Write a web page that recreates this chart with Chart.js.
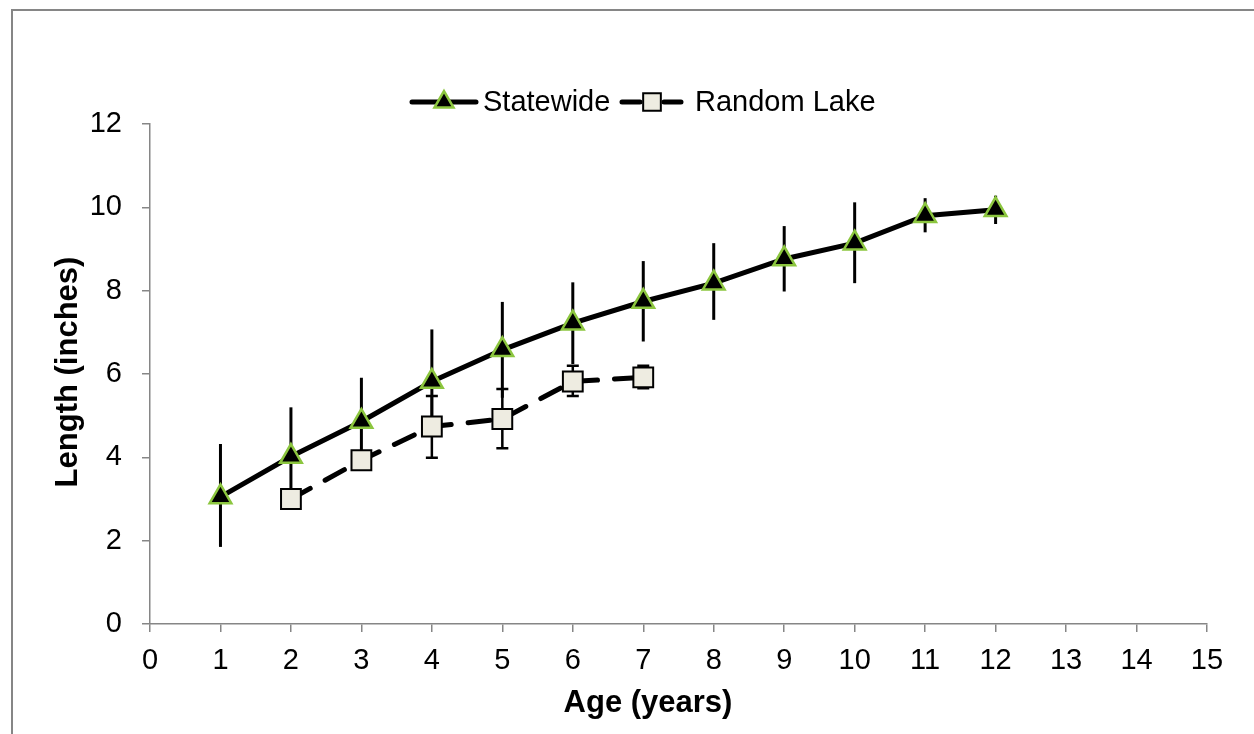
<!DOCTYPE html>
<html>
<head>
<meta charset="utf-8">
<script src="https://cdn.jsdelivr.net/npm/chart.js@4.4.1/dist/chart.umd.min.js"></script>
<style>
  body { margin: 0; background: #fff; }
  canvas { display: block; }
</style>
</head>
<body>
<canvas id="grafico" width="1254" height="734"></canvas>
<script>
// Statewide
const edadesEstado = [1, 2, 3, 4, 5, 6, 7, 8, 9, 10, 11, 12];
const mediaEstado = [3.05, 4.02, 4.86, 5.82, 6.58, 7.22, 7.74, 8.18, 8.76, 9.14, 9.80, 9.94];
const altoEstado = [4.32, 5.20, 5.91, 7.07, 7.73, 8.20, 8.71, 9.14, 9.55, 10.12, 10.22, 10.28];
const bajoEstado = [1.85, 2.84, 3.81, 4.57, 5.43, 6.24, 6.78, 7.30, 7.98, 8.18, 9.40, 9.60];

// Random Lake
const edadesLago = [2, 3, 4, 5, 6, 7];
const mediaLago = [3.00, 3.93, 4.74, 4.92, 5.82, 5.92];
const altoLago = [3.00, 3.93, 5.47, 5.64, 6.20, 6.20];
const bajoLago = [3.00, 3.93, 3.99, 4.22, 5.47, 5.66];

const nombres = ['Statewide', 'Random Lake'];
const tituloX = 'Age (years)';
const tituloY = 'Length (inches)';

const fuente = '"Liberation Sans", Arial, sans-serif';
const verde = '#8cc63f';
const gris = '#868686';

const puntos = (xs, ys) => xs.map((x, i) => ({ x: x, y: ys[i] }));

// Barras de error
const barrasError = {
  id: 'barrasError',
  beforeDatasetsDraw(chart) {
    const { ctx, scales: { x, y } } = chart;
    const series = [
      { xs: edadesEstado, alto: altoEstado, bajo: bajoEstado, ancho: 3, tapa: 0 },
      { xs: edadesLago, alto: altoLago, bajo: bajoLago, ancho: 2.5, tapa: 6 }
    ];
    ctx.save();
    ctx.strokeStyle = '#000';
    series.forEach(s => {
      ctx.lineWidth = s.ancho;
      s.xs.forEach((e, i) => {
        if (s.alto[i] === s.bajo[i]) return;
        const px = x.getPixelForValue(e);
        const y1 = y.getPixelForValue(s.alto[i]);
        const y2 = y.getPixelForValue(s.bajo[i]);
        ctx.beginPath();
        ctx.moveTo(px, y1);
        ctx.lineTo(px, y2);
        if (s.tapa) {
          ctx.moveTo(px - s.tapa, y1);
          ctx.lineTo(px + s.tapa, y1);
          ctx.moveTo(px - s.tapa, y2);
          ctx.lineTo(px + s.tapa, y2);
        }
        ctx.stroke();
      });
    });
    ctx.restore();
  }
};

// Marco, titulos de ejes y leyenda
const extras = {
  id: 'extras',
  beforeDraw(chart) {
    const ctx = chart.ctx;
    ctx.save();
    ctx.fillStyle = '#fff';
    ctx.fillRect(0, 0, chart.width, chart.height);
    ctx.strokeStyle = gris;
    ctx.lineWidth = 2;
    ctx.strokeRect(12, 10, chart.width + 20, chart.height + 20);
    ctx.restore();
  },
  afterDraw(chart) {
    const ctx = chart.ctx;
    ctx.save();
    ctx.fillStyle = '#000';
    ctx.font = 'bold 31px ' + fuente;
    ctx.textAlign = 'center';
    ctx.textBaseline = 'alphabetic';
    ctx.fillText(tituloX, 648, 712);
    ctx.translate(77, 372);
    ctx.rotate(-Math.PI / 2);
    ctx.fillText(tituloY, 0, 0);
    ctx.restore();

    // leyenda
    const ds = chart.data.datasets;
    const yl = 102;
    ctx.save();
    ctx.strokeStyle = '#000';
    ctx.lineWidth = 5;
    ctx.lineCap = 'round';
    ctx.beginPath();
    ctx.moveTo(412, yl);
    ctx.lineTo(476, yl);
    ctx.moveTo(622, yl);
    ctx.lineTo(640, yl);
    ctx.moveTo(664, yl);
    ctx.lineTo(681, yl);
    ctx.stroke();

    ctx.fillStyle = ds[0].pointBackgroundColor;
    ctx.strokeStyle = ds[0].pointBorderColor;
    ctx.lineWidth = 2.5;
    Chart.helpers.drawPoint(ctx, { pointStyle: 'triangle', radius: 11, borderWidth: 2.5, rotation: 0 }, 444, yl);
    ctx.fillStyle = ds[1].pointBackgroundColor;
    ctx.strokeStyle = ds[1].pointBorderColor;
    ctx.lineWidth = 2;
    Chart.helpers.drawPoint(ctx, { pointStyle: 'rect', radius: 12.5, borderWidth: 2, rotation: 0 }, 652, yl);

    ctx.fillStyle = '#000';
    ctx.font = '29px ' + fuente;
    ctx.textAlign = 'left';
    ctx.textBaseline = 'alphabetic';
    ctx.fillText(nombres[0], 483, 111);
    ctx.fillText(nombres[1], 695, 111);
    ctx.restore();
  }
};

new Chart(document.getElementById('grafico'), {
  type: 'line',
  data: {
    datasets: [
      {
        label: nombres[0],
        data: puntos(edadesEstado, mediaEstado),
        borderColor: '#000',
        borderWidth: 5,
        pointStyle: 'triangle',
        pointRadius: 12.5,
        pointBackgroundColor: '#000',
        pointBorderColor: verde,
        pointBorderWidth: 2.5,
        tension: 0,
        order: 2
      },
      {
        label: nombres[1],
        data: puntos(edadesLago, mediaLago),
        borderColor: '#000',
        borderWidth: 5,
        borderDash: [22, 17],
        borderCapStyle: 'round',
        pointStyle: 'rect',
        pointRadius: 14,
        pointBackgroundColor: '#eeece1',
        pointBorderColor: '#000',
        pointBorderWidth: 2,
        tension: 0,
        order: 1
      }
    ]
  },
  options: {
    responsive: false,
    animation: false,
    devicePixelRatio: 1,
    layout: { padding: { top: 124, right: 47, left: 0, bottom: 0 } },
    plugins: {
      legend: { display: false },
      tooltip: { enabled: false }
    },
    scales: {
      x: {
        type: 'linear',
        min: 0,
        max: 15,
        afterFit: s => { s.height = 110; },
        grid: { drawOnChartArea: false, drawTicks: true, tickLength: 8, color: gris, lineWidth: 1.5 },
        border: { color: gris, width: 1.5 },
        ticks: { stepSize: 1, color: '#000', padding: 12, font: { family: fuente, size: 29 } }
      },
      y: {
        min: 0,
        max: 12,
        afterFit: s => { s.width = 150; },
        grid: { drawOnChartArea: false, drawTicks: true, tickLength: 8, color: gris, lineWidth: 1.5 },
        border: { color: gris, width: 1.5 },
        ticks: { stepSize: 2, color: '#000', padding: 20, font: { family: fuente, size: 29 } }
      }
    }
  },
  plugins: [barrasError, extras]
});
</script>
</body>
</html>
